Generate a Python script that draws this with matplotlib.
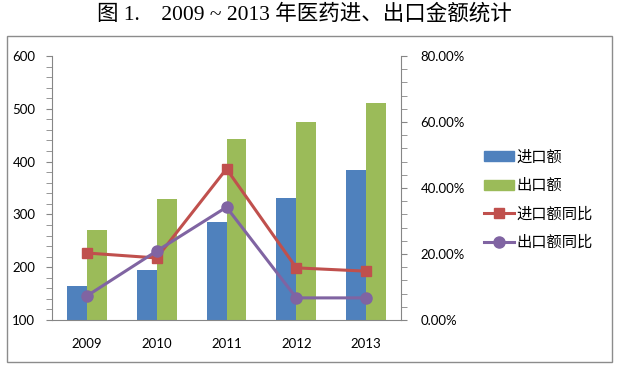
import matplotlib.pyplot as plt
import numpy as np
from matplotlib.lines import Line2D
from matplotlib.patches import Patch, Rectangle
from matplotlib.ticker import MultipleLocator, PercentFormatter

years = ['2009', '2010', '2011', '2012', '2013']
imp = [164, 195, 286, 331, 384]          # 进口额
exp = [270, 329, 443, 475, 511]          # 出口额
imp_yoy = [20.3, 18.8, 45.8, 15.8, 14.8]  # 进口额同比 (%)
exp_yoy = [7.3, 20.9, 34.2, 6.7, 6.7]     # 出口额同比 (%)

c_blue = '#4F81BD'
c_green = '#9BBB59'
c_red = '#C0504D'
c_purple = '#8064A2'
c_axis = '#868686'

plt.rcParams['font.family'] = ['Lato', 'Noto Sans CJK SC', 'DejaVu Sans']

fig = plt.figure(figsize=(6.23, 3.70), dpi=100)

# chart frame
fig.patches.append(Rectangle((7 / 623, 1 - 362 / 370), 605 / 623, 326 / 370,
                             transform=fig.transFigure, fill=False,
                             edgecolor='#8c8c8c', linewidth=1.0))

fig.text(304 / 623, 1 - 14 / 370, '图 1.    2009 ~ 2013 年医药进、出口金额统计',
         ha='center', va='center', fontsize=15.5,
         family=['Liberation Serif', 'Noto Sans CJK SC'])

ax = fig.add_axes([52 / 623, 1 - 320 / 370, 349 / 623, 264 / 370])
x = np.arange(len(years))
w = 0.286
ax.bar(x - w / 2, imp, w, color=c_blue)
ax.bar(x + w / 2, exp, w, color=c_green)
ax.set_xlim(-0.5, len(years) - 0.5)
ax.set_ylim(100, 600)
ax.yaxis.set_major_locator(MultipleLocator(100))
ax.yaxis.set_minor_locator(MultipleLocator(20))
ax.set_xticks(x)
ax.set_xticklabels(years)

ax2 = ax.twinx()
ax2.plot(x, imp_yoy, color=c_red, lw=2.2, marker='s', markersize=7.5)
ax2.plot(x, exp_yoy, color=c_purple, lw=2.2, marker='o', markersize=8)
ax2.set_ylim(0, 80)
ax2.yaxis.set_major_locator(MultipleLocator(20))
ax2.yaxis.set_minor_locator(MultipleLocator(4))
ax2.yaxis.set_major_formatter(PercentFormatter(decimals=2))

for a in (ax, ax2):
    a.spines['top'].set_visible(False)
    for s in a.spines.values():
        s.set_color(c_axis)
    a.tick_params(which='both', color=c_axis, labelsize=9.5, labelcolor='black')
    a.tick_params(which='major', length=4)
    a.tick_params(which='minor', length=4)
ax.spines['right'].set_visible(False)
ax2.spines['left'].set_visible(False)
ax2.spines['bottom'].set_visible(False)
ax.tick_params(axis='x', length=0, pad=13)
ax.tick_params(axis='y', pad=8)
ax2.tick_params(axis='y', pad=10)

handles = [Patch(color=c_blue), Patch(color=c_green),
           Line2D([], [], color=c_red, lw=2.2, marker='s', markersize=7.5),
           Line2D([], [], color=c_purple, lw=2.2, marker='o', markersize=8)]
labels = ['进口额', '出口额', '进口额同比', '出口额同比']
fig.legend(handles, labels, loc='upper left',
           bbox_to_anchor=(476 / 623, 1 - 141 / 370), frameon=False,
           prop={'family': ['Noto Sans CJK SC'], 'size': 11},
           handlelength=2.0, handleheight=0.6, handletextpad=0.15,
           labelspacing=0.75, borderpad=0)

fig.savefig('out.png', dpi=100)
